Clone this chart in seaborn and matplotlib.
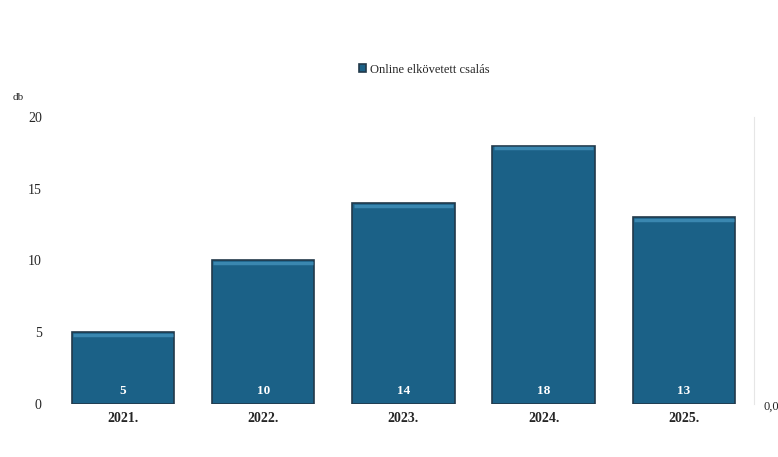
import pandas as pd
import numpy as np
import matplotlib.pyplot as plt
import seaborn as sns

# Data
years = ["2021.", "2022.", "2023.", "2024.", "2025."]
counts = [5, 10, 14, 18, 13]
series_name = "Online elkövetett csalás"

df = pd.DataFrame({"Év": years, "db": counts})

sns.set_style("white")
plt.rcParams['font.family'] = ['Liberation Serif', 'DejaVu Serif']

bar_color = "#1b6187"

fig = plt.figure(figsize=(7.78, 4.57), dpi=100)
ax = fig.add_axes([0.068, 0.116, 0.901, 0.628])

sns.barplot(data=df, x="Év", y="db", color=bar_color, saturation=1,
            width=0.73, edgecolor="#22394a", linewidth=1.2, ax=ax,
            label=series_name)

# lighter strip along the top of each bar
for p in ax.patches:
    ax.plot([p.get_x() + 0.01, p.get_x() + p.get_width() - 0.01],
            [p.get_height() - 0.17] * 2, color="#3a87b0", lw=2.5,
            solid_capstyle="butt")

# value labels inside the bars, near the bottom
for i, v in enumerate(counts):
    ax.text(i, 0.9, str(v), ha="center", va="center", color="white",
            fontsize=9.5, fontweight="bold")

ax.set_ylim(0, 20)
ax.set_xlim(-0.5, 4.5)
ax.set_yticks([0, 5, 10, 15, 20])
ax.set_xlabel("")
ax.set_ylabel("")
ax.tick_params(axis="y", labelsize=10, length=0, pad=8)
ax.tick_params(axis="x", labelsize=10, length=0, pad=6)
for t in ax.get_xticklabels():
    t.set_fontweight("bold")

for s in ["top", "left", "bottom"]:
    ax.spines[s].set_visible(False)
ax.spines["right"].set_color("#e6e6e6")
ax.spines["right"].set_linewidth(0.8)

fig.text(0.016, 0.782, "db", fontsize=8)
fig.text(0.981, 0.104, "0,0", fontsize=9)

ax.legend(loc="lower center", bbox_to_anchor=(0.53, 1.105), frameon=False,
          fontsize=9, handlelength=0.6, handleheight=0.6, handletextpad=0.3)

fig.savefig("out.png", dpi=100)
